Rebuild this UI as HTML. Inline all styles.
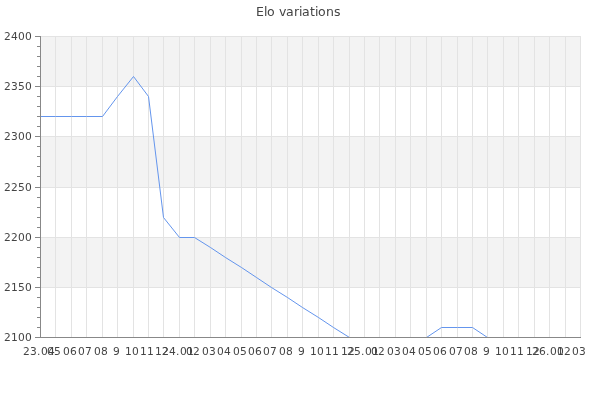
<!DOCTYPE html>
<html><head><meta charset="utf-8"><title>Elo variations</title><style>
html,body{margin:0;padding:0;background:#fff;width:600px;height:400px;overflow:hidden}
svg{display:block}
text{font-family:"DejaVu Sans","Liberation Sans",sans-serif}
</style></head><body>
<svg width="600" height="400" viewBox="0 0 600 400">
<g shape-rendering="crispEdges"><rect x="41" y="36" width="540" height="50" fill="#f3f3f3"/><rect x="41" y="136" width="540" height="51" fill="#f3f3f3"/><rect x="41" y="237" width="540" height="50" fill="#f3f3f3"/>
<path d="M41 36.5H581M41 86.5H581M41 136.5H581M41 187.5H581M41 237.5H581M41 287.5H581" stroke="#e3e3e3" fill="none"/>
<path d="M55.5 36V337M71.5 36V337M86.5 36V337M102.5 36V337M117.5 36V337M133.5 36V337M148.5 36V337M163.5 36V337M179.5 36V337M194.5 36V337M210.5 36V337M225.5 36V337M241.5 36V337M256.5 36V337M271.5 36V337M287.5 36V337M302.5 36V337M318.5 36V337M333.5 36V337M349.5 36V337M364.5 36V337M379.5 36V337M395.5 36V337M410.5 36V337M426.5 36V337M441.5 36V337M457.5 36V337M472.5 36V337M487.5 36V337M503.5 36V337M518.5 36V337M534.5 36V337M549.5 36V337M565.5 36V337M580.5 36V337" stroke="#e3e3e3" fill="none"/>
</g>
<polyline points="40.5,116.5 55.5,116.5 71.5,116.5 86.5,116.5 102.5,116.5 117.5,96.5 133.5,76.5 148.5,96.5 163.5,217.5 179.5,237.5 194.5,237.5 210.5,247.5 225.5,257.5 241.5,267.5 256.5,277.5 271.5,287.5 287.5,297.5 302.5,307.5 318.5,317.5 333.5,327.5 349.5,337.5 364.5,337.5 379.5,337.5 395.5,337.5 410.5,337.5 426.5,337.5 441.5,327.5 457.5,327.5 472.5,327.5 487.5,337.5 503.5,337.5 518.5,337.5 534.5,337.5 549.5,337.5 565.5,337.5 580.5,337.5" fill="none" stroke="#6495ed" stroke-width="1.0"/>
<path d="M40.5 36V338M40 337.5H581M35 36.5H40M37 46.5H40M37 56.5H40M37 66.5H40M37 76.5H40M35 86.5H40M37 96.5H40M37 106.5H40M37 116.5H40M37 126.5H40M35 136.5H40M37 146.5H40M37 156.5H40M37 166.5H40M37 176.5H40M35 187.5H40M37 197.5H40M37 207.5H40M37 217.5H40M37 227.5H40M35 237.5H40M37 247.5H40M37 257.5H40M37 267.5H40M37 277.5H40M35 287.5H40M37 297.5H40M37 307.5H40M37 317.5H40M37 327.5H40M35 337.5H40" stroke="#888888" fill="none" shape-rendering="crispEdges"/>
<text x="256 264 267 275 279 286 294 299 302 310 315 318 326 334" y="16" font-size="12.5" fill="#444444">Elo variations</text>
<g font-size="10.67" fill="#444444"><text x="4 11 18 25" y="40">2400</text><text x="4 11 18 25" y="90">2350</text><text x="4 11 18 25" y="140">2300</text><text x="4 11 18 25" y="191">2250</text><text x="4 11 18 25" y="241">2200</text><text x="4 11 18 25" y="291">2150</text><text x="4 11 18 25" y="341">2100</text></g>
<g font-size="10.67" fill="#444444"><text x="23 30 37 41 48" y="355">23.04</text><text x="47 54" y="355">05</text><text x="63 70" y="355">06</text><text x="78 85" y="355">07</text><text x="94 101" y="355">08</text><text x="113" y="355">9</text><text x="125 132" y="355">10</text><text x="140 147" y="355">11</text><text x="155 162" y="355">12</text><text x="162 169 176 180 187" y="355">24.01</text><text x="186 193" y="355">02</text><text x="202 209" y="355">03</text><text x="217 224" y="355">04</text><text x="233 240" y="355">05</text><text x="248 255" y="355">06</text><text x="263 270" y="355">07</text><text x="279 286" y="355">08</text><text x="298" y="355">9</text><text x="310 317" y="355">10</text><text x="325 332" y="355">11</text><text x="341 348" y="355">12</text><text x="347 354 361 365 372" y="355">25.01</text><text x="371 378" y="355">02</text><text x="387 394" y="355">03</text><text x="402 409" y="355">04</text><text x="418 425" y="355">05</text><text x="433 440" y="355">06</text><text x="449 456" y="355">07</text><text x="464 471" y="355">08</text><text x="483" y="355">9</text><text x="495 502" y="355">10</text><text x="510 517" y="355">11</text><text x="526 533" y="355">12</text><text x="532 539 546 550 557" y="355">26.01</text><text x="557 564" y="355">02</text><text x="572 579" y="355">03</text></g>
</svg></body></html>
